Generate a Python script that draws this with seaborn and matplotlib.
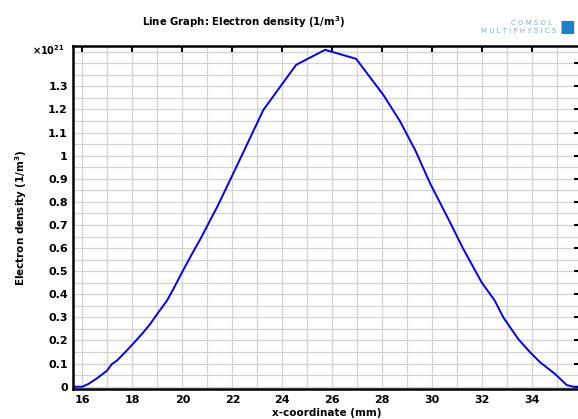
import matplotlib
matplotlib.use("Agg")
import matplotlib.pyplot as plt
import pandas as pd
import seaborn as sns
from matplotlib.ticker import MultipleLocator, FixedLocator, FuncFormatter

# Data (x in mm, density in units of 1e21 1/m^3)
x_mm = [15.64, 16.0, 16.24, 16.58, 16.98, 17.18, 17.38, 17.71, 18.02, 18.38,
        18.71, 19.04, 19.38, 19.64, 20.02, 20.38, 20.71, 21.4, 22.04, 23.24,
        24.55, 25.71, 26.95, 28.04, 28.7, 29.31, 29.91, 30.64, 31.24, 31.97,
        32.5, 32.84, 33.44, 33.91, 34.31, 34.91, 35.38, 35.64, 35.9]
density = [0.0, 0.0, 0.012, 0.036, 0.069, 0.098, 0.113, 0.149, 0.185, 0.228,
           0.271, 0.322, 0.372, 0.423, 0.502, 0.574, 0.637, 0.78, 0.924, 1.198,
           1.393, 1.458, 1.419, 1.263, 1.15, 1.025, 0.88, 0.726, 0.596, 0.452,
           0.372, 0.300, 0.206, 0.149, 0.106, 0.055, 0.007, 0.0, 0.0]

x_ticks = [16, 18, 20, 22, 24, 26, 28, 30, 32, 34]
y_ticks = [0, 0.1, 0.2, 0.3, 0.4, 0.5, 0.6, 0.7, 0.8, 0.9, 1.0, 1.1, 1.2, 1.3, 1.4]

df = pd.DataFrame({"x": x_mm, "n": density})

sns.set_style("white")
plt.rcParams["font.family"] = ["DejaVu Sans"]
plt.rcParams["text.color"] = "black"
plt.rcParams["axes.labelcolor"] = "black"
plt.rcParams["xtick.color"] = "black"
plt.rcParams["ytick.color"] = "black"

fig = plt.figure(figsize=(5.78, 4.19), dpi=100)
ax = fig.add_axes([0.127, 0.071, 0.877, 0.820])

sns.lineplot(data=df, x="x", y="n", ax=ax, color="#0000ff", linewidth=1.4,
             sort=False, estimator=None)

ax.set_xlim(15.64, 35.92)
ax.set_ylim(-0.011, 1.476)

ax.xaxis.set_major_locator(FixedLocator(x_ticks))
ax.xaxis.set_minor_locator(MultipleLocator(1))
ax.yaxis.set_major_locator(FixedLocator(y_ticks))
ax.yaxis.set_minor_locator(MultipleLocator(0.05))
ax.yaxis.set_major_formatter(
    FuncFormatter(lambda v, p: "" if v > 1.35 else "%g" % round(v, 2)))

ax.grid(which="both", color="#d2d2d2", linewidth=0.9)
ax.set_axisbelow(True)

ax.tick_params(which="major", direction="in", length=4, width=1.5,
               top=True, right=True, labelsize=8, pad=4)
ax.tick_params(which="minor", length=0)
for lab in ax.get_xticklabels() + ax.get_yticklabels():
    lab.set_fontweight("bold")

for s in ax.spines.values():
    s.set_linewidth(1.8)
    s.set_color("black")

ax.set_xlabel("x-coordinate (mm)", fontsize=7.5, fontweight="bold", labelpad=2)
ax.set_ylabel("Electron density (1/m$^\\mathbf{3}$)", fontsize=7.5,
              fontweight="bold", labelpad=14)

fig.text(0.421, 0.947, "Line Graph: Electron density (1/m$^\\mathbf{3}$)",
         ha="center", va="center", fontsize=7.3, fontweight="bold")
fig.text(0.055, 0.880, "\u00d710$^{\\mathbf{21}}$", ha="left", va="center",
         fontsize=7, fontweight="bold")

fig.text(0.955, 0.946, "C O M S O L", ha="right", va="center", fontsize=5,
         color="#6fb3e0")
fig.text(0.962, 0.925, "M U L T I P H Y S I C S", ha="right", va="center",
         fontsize=5, color="#6fb3e0")
fig.text(0.995, 0.936, "\u25a0", ha="right", va="center", fontsize=12,
         color="#1f7fc4")

fig.savefig("out.png", dpi=100)
